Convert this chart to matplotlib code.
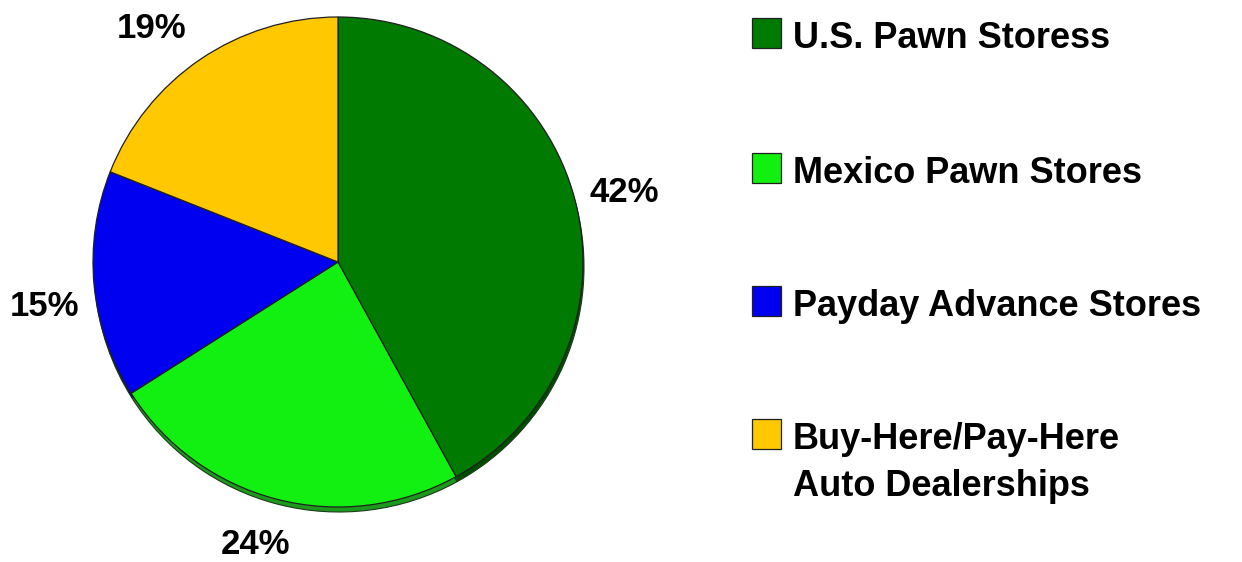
import matplotlib.pyplot as plt
from matplotlib.patches import Rectangle

labels = ["U.S. Pawn Storess", "Mexico Pawn Stores", "Payday Advance Stores",
          "Buy-Here/Pay-Here\nAuto Dealerships"]
shares = [42, 24, 15, 19]
colors = ["#007a00", "#11f011", "#0000f0", "#ffc800"]
side_colors = ["#004d00", "#1c9a1c", "#00008a", "#a08000"]

plt.rcParams["font.family"] = ["Liberation Sans", "DejaVu Sans"]
plt.rcParams["font.weight"] = "bold"

W, H = 1242, 562
fig = plt.figure(figsize=(W / 100, H / 100), dpi=100)
ax = fig.add_axes([0, 0, 1, 1])

cx, cy, r = 338, 300, 245

# thin extruded rim below the pie
ax.pie(shares, colors=side_colors, startangle=90, counterclock=False,
       center=(cx + 1, cy - 5), radius=r,
       wedgeprops=dict(edgecolor="#1a3a1a", linewidth=0.8))

wedges, _, pcts = ax.pie(shares, colors=colors, startangle=90, counterclock=False,
                         center=(cx, cy), radius=r, autopct="%.0f%%",
                         pctdistance=1.21,
                         wedgeprops=dict(edgecolor="#202020", linewidth=0.9),
                         textprops=dict(fontsize=25, fontweight="bold", color="black"))

# nudge the percentage labels to their usual spots around the rim
label_spots = [(624, 193), (255, 544), (45, 306), (152, 28)]
for t, (px, py) in zip(pcts, label_spots):
    t.set_position((px, H - py))

# legend drawn by hand so the swatch lines up with the first text line
rows = [48, 183, 316, 449]
line_gap = 47
for lab, col, base in zip(labels, colors, rows):
    ax.add_patch(Rectangle((752, H - base), 29, 30, facecolor=col,
                           edgecolor="#202020", linewidth=0.9))
    for k, line in enumerate(lab.split("\n")):
        ax.text(793, H - base - k * line_gap, line, fontsize=26,
                fontweight="bold", ha="left", va="baseline")

ax.set_xlim(0, W)
ax.set_ylim(0, H)
ax.set_aspect("equal")
ax.axis("off")

fig.savefig("out.png", dpi=100, facecolor="white")
